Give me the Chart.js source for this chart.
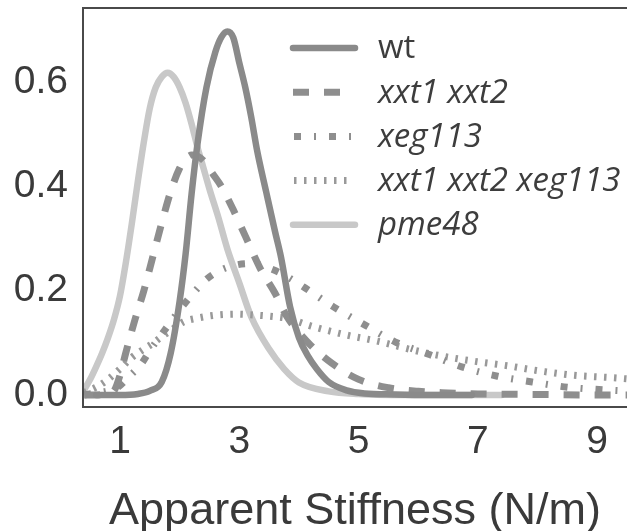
<!DOCTYPE html>
<html><head><meta charset="utf-8">
<script src="https://cdn.jsdelivr.net/npm/chart.js@4"></script>
<style>html,body{margin:0;padding:0;background:#fff;overflow:hidden}</style>
</head><body>
<canvas id="c" width="627" height="531"></canvas>
<script>
// ---- data ----
const seriesNames = ['wt', 'xxt1 xxt2', 'xeg113', 'xxt1 xxt2 xeg113', 'pme48'];

const wtX = [0.6, 1.0, 1.3, 1.5, 1.7, 1.85, 2.0, 2.1, 2.2, 2.3, 2.45, 2.6, 2.7, 2.8, 2.9, 3.0, 3.1, 3.2, 3.3, 3.45, 3.6, 3.7, 3.85, 4.0, 4.15, 4.3, 4.5, 4.8, 5.1, 5.6, 6.2, 6.9];
const wtY = [0.0, 0.0, 0.002, 0.008, 0.025, 0.08, 0.18, 0.27, 0.385, 0.482, 0.59, 0.658, 0.686, 0.697, 0.685, 0.637, 0.59, 0.533, 0.468, 0.39, 0.313, 0.264, 0.17, 0.11, 0.075, 0.05, 0.025, 0.009, 0.003, 0.001, 0.0, 0.0];

const xxtX = [0.4, 0.6, 0.8, 0.9, 1.0, 1.1, 1.25, 1.4, 1.55, 1.7, 1.85, 2.0, 2.1, 2.2, 2.3, 2.42, 2.55, 2.7, 2.9, 3.1, 3.35, 3.6, 3.8, 4.0, 4.2, 4.55, 5.0, 5.5, 6.0, 6.5, 7.0, 8.0, 9.0, 9.6];
const xxtY = [0.0, 0.0, 0.003, 0.008, 0.038, 0.082, 0.144, 0.2, 0.265, 0.33, 0.39, 0.435, 0.452, 0.46, 0.458, 0.447, 0.425, 0.4, 0.355, 0.305, 0.243, 0.195, 0.15, 0.12, 0.095, 0.061, 0.03, 0.014, 0.007, 0.004, 0.002, 0.001, 0.0, 0.0];

const xegX = [0.4, 0.6, 0.8, 0.95, 1.15, 1.36, 1.5, 1.69, 1.9, 2.06, 2.25, 2.45, 2.7, 2.98, 3.2, 3.57, 3.8, 4.08, 4.58, 5.11, 5.61, 6.2, 6.73, 7.33, 7.91, 8.5, 9.09, 9.6];
const xegY = [0.0, 0.004, 0.008, 0.014, 0.035, 0.06, 0.085, 0.115, 0.148, 0.172, 0.198, 0.222, 0.24, 0.25, 0.252, 0.24, 0.227, 0.207, 0.169, 0.134, 0.102, 0.077, 0.054, 0.036, 0.025, 0.015, 0.01, 0.007];

const tripleX = [0.4, 0.6, 0.8, 1.0, 1.2, 1.4, 1.55, 1.7, 1.86, 2.06, 2.28, 2.6, 2.95, 3.3, 3.62, 3.8, 4.24, 4.8, 5.36, 5.92, 6.48, 6.98, 7.5, 7.93, 8.6, 9.27, 9.6];
const tripleY = [0.005, 0.015, 0.03, 0.05, 0.072, 0.088, 0.099, 0.112, 0.124, 0.14, 0.147, 0.153, 0.155, 0.153, 0.15, 0.147, 0.131, 0.115, 0.102, 0.086, 0.073, 0.064, 0.056, 0.048, 0.038, 0.033, 0.03];

const pmeX = [0.4, 0.5, 0.6, 0.7, 0.8, 0.9, 1.0, 1.1, 1.2, 1.3, 1.4, 1.5, 1.6, 1.7, 1.8, 1.9, 2.0, 2.1, 2.2, 2.3, 2.4, 2.5, 2.65, 2.8, 3.0, 3.2, 3.5, 3.75, 4.0, 4.5, 5.0, 6.0, 7.4];
const pmeY = [0.01, 0.03, 0.054, 0.08, 0.11, 0.145, 0.19, 0.255, 0.33, 0.41, 0.485, 0.55, 0.59, 0.61, 0.618, 0.61, 0.59, 0.56, 0.52, 0.475, 0.435, 0.395, 0.34, 0.28, 0.215, 0.15, 0.088, 0.05, 0.024, 0.007, 0.002, 0.0, 0.0];

const xTicks = [1, 3, 5, 7, 9];
const yTicks = [0.0, 0.2, 0.4, 0.6];
const xTitle = 'Apparent Stiffness (N/m)';

// ---- build ----
const pts = (xs, ys) => xs.map((x, i) => ({x: x, y: ys[i]}));
const styles = [
  {color: '#8a8a8a', width: 6.5, dash: [], cap: 'round', italic: false, lx0: 290, lx1: 358},
  {color: '#8e8e8e', width: 7, dash: [16, 15], cap: 'butt', italic: true, lx0: 293, lx1: 340},
  {color: '#8e8e8e', width: 7, dash: [7, 13, 2, 13], cap: 'butt', italic: true, lx0: 294, lx1: 352},
  {color: '#999999', width: 7, dash: [2.5, 7.5], cap: 'butt', italic: true, lx0: 294, lx1: 347},
  {color: '#c8c8c8', width: 6.5, dash: [], cap: 'round', italic: true, lx0: 290, lx1: 358}
];
const seriesData = [pts(wtX, wtY), pts(xxtX, xxtY), pts(xegX, xegY), pts(tripleX, tripleY), pts(pmeX, pmeY)];

const datasets = seriesNames.map((name, i) => ({
  label: name,
  data: seriesData[i],
  borderColor: styles[i].color,
  borderWidth: styles[i].width,
  borderDash: styles[i].dash,
  borderCapStyle: styles[i].cap,
  borderJoinStyle: 'round',
  pointRadius: 0,
  fill: false,
  cubicInterpolationMode: 'monotone',
  order: i === 4 ? 5 : i
}));

const framePlugin = {
  id: 'frame',
  afterDraw(chart) {
    const {ctx, chartArea: a} = chart;
    ctx.save();
    ctx.strokeStyle = '#4a4a4a';
    ctx.lineWidth = 2;
    ctx.beginPath();
    ctx.moveTo(a.right + 5, a.top);
    ctx.lineTo(a.left, a.top);
    ctx.lineTo(a.left, a.bottom);
    ctx.lineTo(a.right + 5, a.bottom);
    ctx.stroke();
    ctx.restore();
  }
};

const legendPlugin = {
  id: 'innerLegend',
  afterDatasetsDraw(chart) {
    const {ctx, chartArea: a} = chart;
    ctx.save();
    chart.data.datasets.forEach((ds, i) => {
      const st = styles[i];
      const y = a.top + 40 + 44.2 * i;
      ctx.beginPath();
      ctx.strokeStyle = ds.borderColor;
      ctx.lineWidth = ds.borderWidth;
      ctx.lineCap = st.cap;
      ctx.setLineDash(st.dash);
      ctx.moveTo(st.lx0 + (st.cap === 'round' ? 3 : 0), y);
      ctx.lineTo(st.lx1 - (st.cap === 'round' ? 3 : 0), y);
      ctx.stroke();
      ctx.setLineDash([]);
      ctx.fillStyle = '#3d3d3d';
      ctx.font = (st.italic ? 'italic ' : '') + '33px "Open Sans", sans-serif';
      ctx.textBaseline = 'middle';
      ctx.textAlign = 'left';
      ctx.fillText(ds.label, 378, y + 1);
    });
    ctx.restore();
  }
};

new Chart(document.getElementById('c'), {
  type: 'line',
  data: {datasets: datasets},
  options: {
    responsive: false,
    devicePixelRatio: 1,
    animation: false,
    layout: {padding: {top: 8, left: 0, right: 0, bottom: 0}},
    plugins: {legend: {display: false}, tooltip: {enabled: false}},
    scales: {
      x: {
        type: 'linear',
        min: 0.38,
        max: 9.5,
        afterBuildTicks: s => { s.ticks = xTicks.map(v => ({value: v})); },
        afterFit: s => { s.height = 124; s.paddingLeft = 0; s.paddingRight = 0; },
        grid: {display: false, drawTicks: false},
        border: {display: false},
        ticks: {padding: 12, color: '#3a3a3a', font: {family: '"Liberation Sans", Arial, sans-serif', size: 39}, maxRotation: 0, autoSkip: false},
        title: {display: true, text: xTitle, color: '#3a3a3a', font: {family: '"Liberation Sans", Arial, sans-serif', size: 45}, padding: {top: 0, bottom: -8}}
      },
      y: {
        type: 'linear',
        min: -0.023,
        max: 0.742,
        afterBuildTicks: s => { s.ticks = yTicks.map(v => ({value: v})); },
        afterFit: s => { s.width = 83; s.paddingTop = 0; s.paddingBottom = 0; },
        grid: {display: false, drawTicks: false},
        border: {display: false},
        ticks: {padding: 15, color: '#3a3a3a', font: {family: '"Liberation Sans", Arial, sans-serif', size: 39}, callback: v => v.toFixed(1)}
      }
    }
  },
  plugins: [framePlugin, legendPlugin]
});
</script>
</body></html>
